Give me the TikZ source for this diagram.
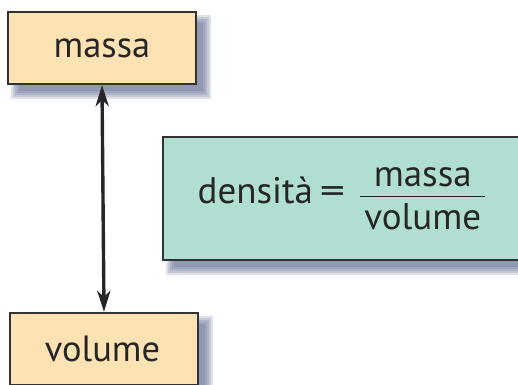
\documentclass[tikz,border=0pt]{standalone}
\usepackage{fontspec}
\setmainfont{PT Sans}
\usepackage{amsmath}
\usepackage{graphicx}
\usetikzlibrary{arrows.meta,backgrounds}
\definecolor{peach}{RGB}{253,227,180}
\definecolor{mint}{RGB}{176,222,210}
\definecolor{shadowc}{RGB}{85,100,140}
\definecolor{edge}{RGB}{50,50,50}
\definecolor{ink}{RGB}{38,38,38}
\tikzset{
  qbox/.style={draw=edge, line width=2.2pt, fill=peach, minimum width=188pt,
    minimum height=72pt, inner sep=0pt, text=ink, font=\fontsize{36.5}{44}\selectfont},
  eqbox/.style={draw=edge, line width=2.2pt, fill=mint, minimum width=358pt,
    minimum height=123pt, inner sep=0pt, text=ink, font=\fontsize{37}{44}\selectfont},
  link/.style={draw=ink, line width=3.4pt, {Stealth[length=21pt,width=13pt,inset=6pt]}-{Stealth[length=21pt,width=13pt,inset=6pt]}},
  shadowlayer/.style={fill=shadowc, opacity=0.19}
}
\newcommand{\boxshadow}[1]{%
  \foreach \d in {5,3,1,-1,-3}{%
    \fill[shadowlayer] ([shift={(9pt-\d pt,-9pt-\d pt)}]#1.south west)
      rectangle ([shift={(9pt+\d pt,-9pt+\d pt)}]#1.north east);
  }%
}
\begin{document}
\begin{tikzpicture}[x=1pt,y=1pt]
  \useasboundingbox (0,0) rectangle (518,384);
  \clip (0,0) rectangle (518,384);
  \node[qbox] (m) at (102,336) {massa};
  \node[qbox, xshift=2pt] (v) at (102,35) {\hspace{-3pt}volume};
  \node[eqbox] (d) at (342,185.5)
    {densità\hspace{7pt}\scalebox{1.35}[1]{=}\hspace{14pt}$\dfrac{\text{massa}}{\text{\hspace{4pt}\rule{0pt}{29pt}volume\hspace{4pt}}}$};
  \begin{pgfonlayer}{background}
    \fill[white] (0,0) rectangle (518,384);
    \boxshadow{m}
    \boxshadow{v}
    \boxshadow{d}
  \end{pgfonlayer}
  \draw[link] (m.south) -- (v.north);
\end{tikzpicture}
\end{document}
